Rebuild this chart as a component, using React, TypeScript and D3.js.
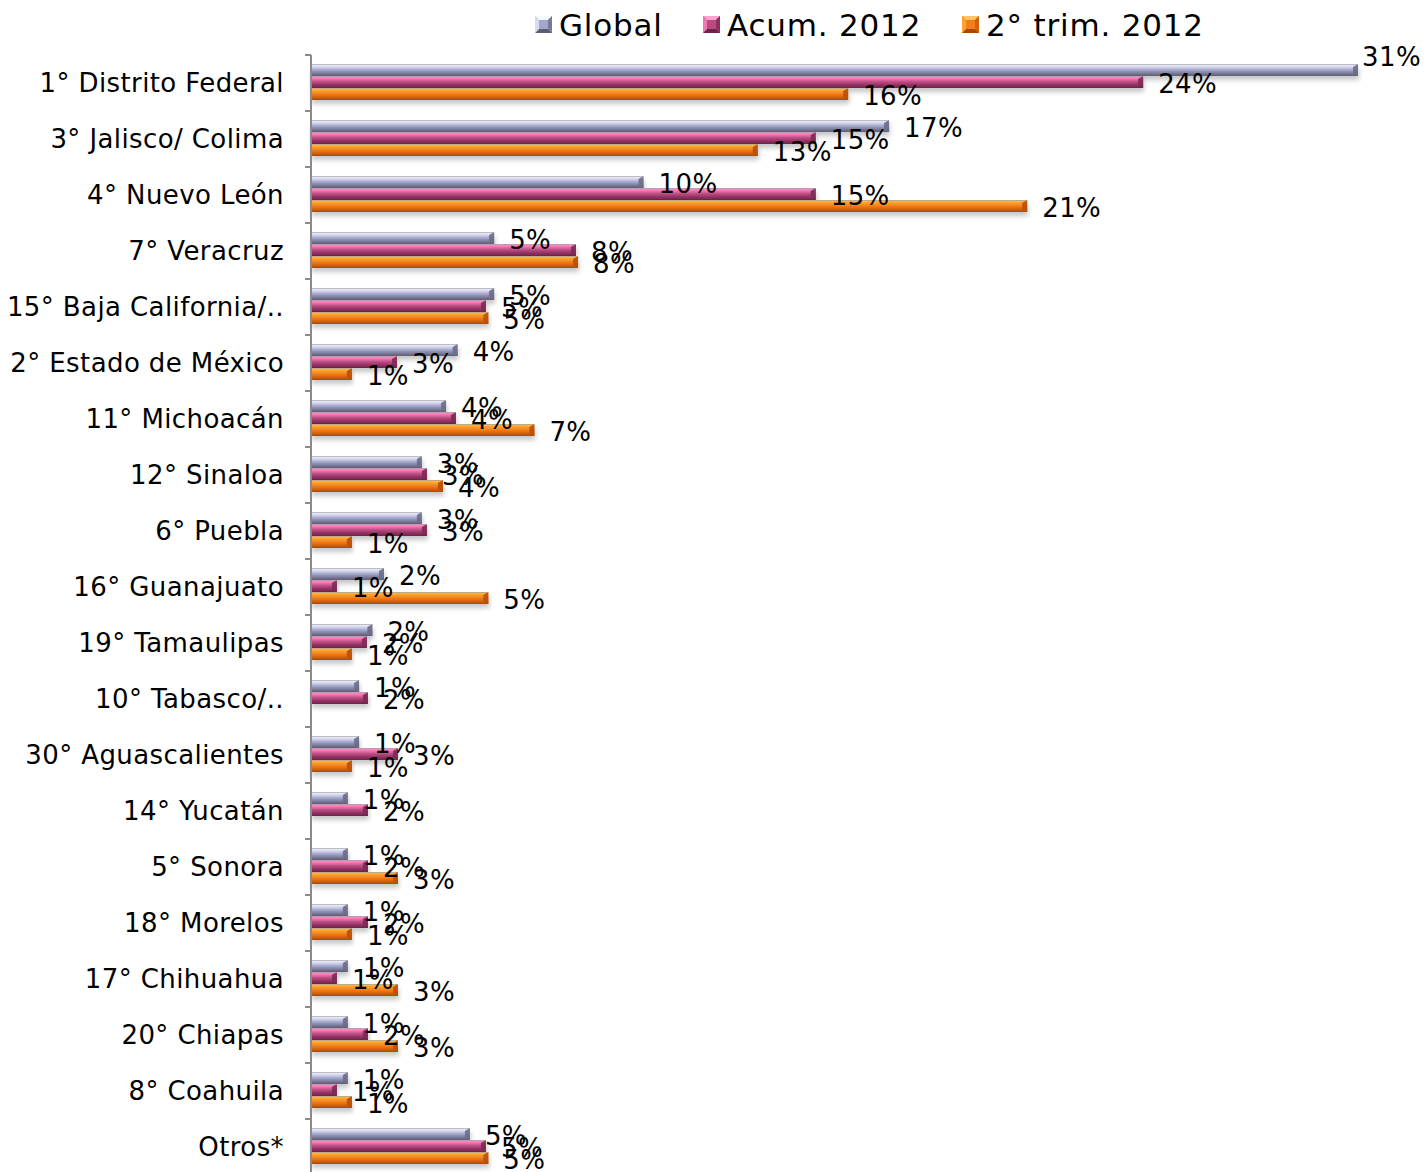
import * as d3 from "d3";

// Ranking label per state, as shown on the chart
const categories = [
  "1° Distrito Federal",
  "3° Jalisco/ Colima",
  "4° Nuevo León",
  "7° Veracruz",
  "15° Baja California/..",
  "2° Estado de México",
  "11° Michoacán",
  "12° Sinaloa",
  "6° Puebla",
  "16° Guanajuato",
  "19° Tamaulipas",
  "10° Tabasco/..",
  "30° Aguascalientes",
  "14° Yucatán",
  "5° Sonora",
  "18° Morelos",
  "17° Chihuahua",
  "20° Chiapas",
  "8° Coahuila",
  "Otros*",
];

const seriesNames = ["Global", "Acum. 2012", "2° trim. 2012"];

// values in percent
const globalValues = [
  30.7, 16.95, 9.75, 5.37, 5.37, 4.3, 3.96, 3.25, 3.25, 2.14,
  1.8, 1.41, 1.41, 1.08, 1.08, 1.08, 1.08, 1.08, 1.08, 4.66,
];
const acumValues = [
  24.4, 14.8, 14.8, 7.77, 5.13, 2.52, 4.25, 3.4, 3.4, 0.76,
  1.64, 1.67, 2.55, 1.67, 1.67, 1.67, 0.76, 1.67, 0.76, 5.13,
];
const trimValues: (number | null)[] = [
  15.75, 13.1, 21.0, 7.83, 5.2, 1.2, 6.55, 3.87, 1.2, 5.2,
  1.2, null, 1.2, null, 2.55, 1.2, 2.55, 2.55, 1.2, 5.2,
];

const seriesValues = [globalValues, acumValues, trimValues];

const palettes = [
  { id: "g-global", stops: ["#f6f6ff", "#dadaf4", "#a6a6ca", "#7a7a98", "#5c5c72"], end: "#6c6c88" },
  { id: "g-acum", stops: ["#ffa0d2", "#f078b3", "#bb4a82", "#8c3060", "#6a2248"], end: "#7c2a55" },
  { id: "g-trim", stops: ["#ffc464", "#ffa232", "#f27e1a", "#d2600c", "#a84808"], end: "#b85008" },
];

const W = 1425;
const H = 1172;
const FONT = "Verdana, 'DejaVu Sans', sans-serif";

export default function App() {
  const axisX = 311;
  const top = 55;
  const rowH = 56;

  const allValues = seriesValues.flat().filter((v): v is number => v !== null);
  const maxVal = d3.max(allValues) || 1;

  const x = d3.scaleLinear().domain([0, maxVal]).range([axisX, 1358]);

  const y = d3
    .scaleBand()
    .domain(categories)
    .range([top, top + rowH * categories.length])
    .padding(0);

  const inner = d3
    .scaleBand()
    .domain(seriesNames)
    .range([9, 45])
    .padding(0);

  const bh = inner.bandwidth();
  const fmt = (v: number) => `${Math.round(v)}%`;
  const textW = (s: string) =>
    s.split("").reduce((a, c) => a + (c === "%" ? 0.95 : 0.636), 0) * 26;

  // legend item positions
  const legendX = [535, 703, 962];

  return (
    <svg
      width={W}
      height={H}
      style={{ position: "absolute", left: 0, top: 0, background: "#fff" }}
      fontFamily={FONT}
    >
      <defs>
        {palettes.map((p) => (
          <linearGradient key={p.id} id={p.id} x1="0" y1="0" x2="0" y2="1">
            <stop offset="0%" stopColor={p.stops[0]} />
            <stop offset="22%" stopColor={p.stops[1]} />
            <stop offset="50%" stopColor={p.stops[2]} />
            <stop offset="78%" stopColor={p.stops[3]} />
            <stop offset="100%" stopColor={p.stops[4]} />
          </linearGradient>
        ))}
        <filter id="shadow" x="-5%" y="-50%" width="110%" height="200%">
          <feGaussianBlur stdDeviation="2.5" />
        </filter>
      </defs>

      {/* Legend */}
      {seriesNames.map((name, i) => {
        const p = palettes[i];
        const lx = legendX[i];
        const s = 17;
        const ly = 16;
        const c = 4;
        return (
          <g key={name}>
            <rect x={lx} y={ly} width={s} height={s} fill={p.stops[2]} />
            <polygon
              points={`${lx},${ly} ${lx + s},${ly} ${lx + s - c},${ly + c} ${lx + c},${ly + c}`}
              fill={p.stops[0]}
            />
            <polygon
              points={`${lx},${ly + s} ${lx + s},${ly + s} ${lx + s - c},${ly + s - c} ${lx + c},${ly + s - c}`}
              fill={p.stops[4]}
            />
            <polygon
              points={`${lx + s},${ly} ${lx + s},${ly + s} ${lx + s - c},${ly + s - c} ${lx + s - c},${ly + c}`}
              fill={p.stops[3]}
            />
            <polygon
              points={`${lx},${ly} ${lx},${ly + s} ${lx + c},${ly + s - c} ${lx + c},${ly + c}`}
              fill={p.stops[1]}
            />
            <text
              x={lx + s + 7}
              y={ly + s / 2}
              dy="0.36em"
              fontSize={31}
              letterSpacing={0.8}
              fill="#000"
            >
              {name}
            </text>
          </g>
        );
      })}

      {/* Bar shadows */}
      {categories.map((cat, ci) => (
        <g key={cat}>
          {seriesNames.map((sn, si) => {
            const v = seriesValues[si][ci];
            if (v === null) return null;
            const y0 = (y(cat) || 0) + (inner(sn) || 0);
            const x1 = x(v);
            return (
              <rect
                key={`s-${sn}`}
                x={axisX + 1}
                y={y0 + 4}
                width={x1 - axisX}
                height={bh}
                fill="#000"
                opacity={0.22}
                filter="url(#shadow)"
              />
            );
          })}
        </g>
      ))}

      {/* Bars */}
      {categories.map((cat, ci) => (
        <g key={`b-${cat}`}>
          {seriesNames.map((sn, si) => {
            const v = seriesValues[si][ci];
            if (v === null) return null;
            const p = palettes[si];
            const y0 = (y(cat) || 0) + (inner(sn) || 0);
            const y1 = y0 + bh;
            const x1 = x(v);
            const bev = 5;
            return (
              <g key={sn}>
                <rect
                  x={axisX + 1}
                  y={y0}
                  width={x1 - axisX - 1}
                  height={bh}
                  fill={`url(#${p.id})`}
                />
                <polygon
                  points={`${x1 - bev},${y0 + 3} ${x1},${y0} ${x1},${y1} ${x1 - bev},${y1 - 3}`}
                  fill={p.end}
                  opacity={0.9}
                />
                <line
                  x1={axisX + 1}
                  x2={x1}
                  y1={y0 + 0.5}
                  y2={y0 + 0.5}
                  stroke="#9a9a9a"
                  strokeOpacity={0.6}
                />
              </g>
            );
          })}
        </g>
      ))}

      {/* Axis */}
      <line x1={axisX} x2={axisX} y1={top} y2={H} stroke="#8a8a8a" strokeWidth={2} />
      {d3.range(categories.length + 1).map((i) => (
        <line
          key={`t-${i}`}
          x1={axisX - 6}
          x2={axisX}
          y1={top + i * rowH}
          y2={top + i * rowH}
          stroke="#8a8a8a"
          strokeWidth={2}
        />
      ))}

      {/* Category labels */}
      {categories.map((cat) => (
        <text
          key={`l-${cat}`}
          x={284}
          y={(y(cat) || 0) + y.bandwidth() / 2}
          dy="0.36em"
          textAnchor="end"
          fontSize={26}
          letterSpacing={0.4}
          fill="#000"
        >
          {cat}
        </text>
      ))}

      {/* Value labels */}
      {categories.map((cat, ci) => (
        <g key={`v-${cat}`}>
          {seriesNames.map((sn, si) => {
            const v = seriesValues[si][ci];
            if (v === null) return null;
            const label = fmt(v);
            let lx = x(v) + 15;
            let ly = (y(cat) || 0) + (inner(sn) || 0) + bh / 2 + 2;
            const tw = textW(label);
            if (lx + tw > W - 2) {
              lx = x(v) + 4;
              ly -= 15;
            }
            return (
              <text
                key={sn}
                x={lx}
                y={ly}
                dy="0.36em"
                fontSize={26}
                letterSpacing={0.4}
                fill="#000"
              >
                {label}
              </text>
            );
          })}
        </g>
      ))}
    </svg>
  );
}
